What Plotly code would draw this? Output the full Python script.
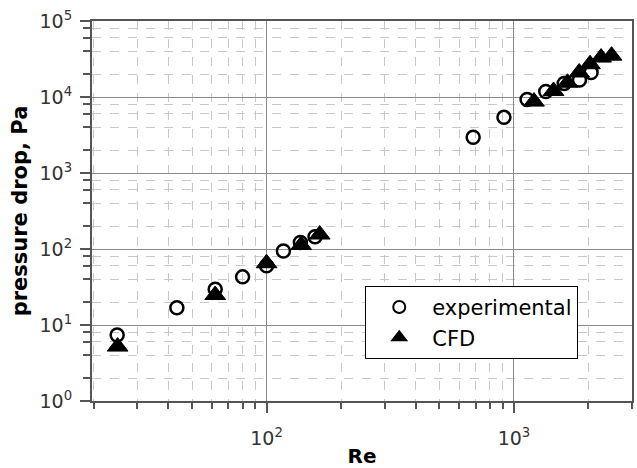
import numpy as np
import plotly.graph_objects as go

# Experimental data
exp_re = [24.9, 43.4, 62, 80, 100, 117, 137, 157, 684, 911, 1130, 1345, 1596, 1840, 2050]
exp_dp = [7.4, 16.9, 29.5, 43, 60, 94, 122, 145, 2950, 5400, 9300, 11800, 15100, 16700, 21000]

# CFD data
cfd_re = [25, 62, 100, 138, 164, 1205, 1445, 1646, 1835, 2030, 2250, 2480]
cfd_dp = [5.2, 24.8, 65, 113, 155, 8700, 12000, 15400, 21000, 27000, 33000, 35000]

y_major = [1, 10, 100, 1000, 10000, 100000]
y_major_text = ["10<sup>0</sup>", "10<sup>1</sup>", "10<sup>2</sup>", "10<sup>3</sup>", "10<sup>4</sup>", "10<sup>5</sup>"]
x_major = [100, 1000]
x_major_text = ["10<sup>2</sup>", "10<sup>3</sup>"]

FONT = "DejaVu Sans, Verdana, sans-serif"

y_minor = [m * 10 ** k for k in range(0, 5) for m in (2, 4, 6, 8)]
x_minor = [m * 10 ** k for k in range(1, 4) for m in range(2, 10) if 19 < m * 10 ** k < 3100]

fig = go.Figure()
fig.add_trace(go.Scatter(
    x=exp_re, y=exp_dp, mode="markers", name="experimental",
    marker=dict(symbol="circle-open", size=13, color="black", line=dict(width=2.5, color="black")),
))
fig.add_trace(go.Scatter(
    x=cfd_re, y=cfd_dp, mode="markers", name="CFD",
    marker=dict(symbol="triangle-up", size=18, color="black", line=dict(width=1, color="black")),
))

axis_common = dict(
    type="log", automargin=False,
    showline=True, linecolor="#555555", linewidth=2, mirror=True,
    ticks="outside", ticklen=10, tickwidth=1.5, tickcolor="#555555",
    showgrid=True, gridcolor="#8a8a8a", gridwidth=1,
    tickfont=dict(family=FONT, size=19, color="#333333"),
    zeroline=False,
)

fig.update_xaxes(
    **axis_common,
    range=[np.log10(19.7), np.log10(3000)],
    tickmode="array", tickvals=x_major, ticktext=x_major_text,
    ticklabelstandoff=9,
    minor=dict(tickmode="array", tickvals=x_minor, ticks="outside", ticklen=6,
               tickcolor="#555555", showgrid=True, gridcolor="#c8c8c8", griddash="dash", gridwidth=1),
    title=dict(text="<b>Re</b>", font=dict(family=FONT, size=20, color="black"), standoff=8),
)
fig.update_yaxes(
    **axis_common,
    range=[0, 5],
    tickmode="array", tickvals=y_major, ticktext=y_major_text,
    ticklabelstandoff=4,
    minor=dict(tickmode="array", tickvals=y_minor, ticks="outside", ticklen=7,
               tickcolor="#555555", showgrid=True, gridcolor="#c8c8c8", griddash="dash", gridwidth=1),
    title=dict(text="<b>pressure drop, Pa</b>", font=dict(family=FONT, size=21, color="black"), standoff=6),
)

fig.update_layout(
    width=637, height=468,
    margin=dict(l=92, r=5, t=21, b=67),
    paper_bgcolor="white", plot_bgcolor="white",
    showlegend=True,
    legend=dict(
        x=0.506, y=0.303, xanchor="left", yanchor="top",
        bgcolor="white", bordercolor="black", borderwidth=1,
        font=dict(family=FONT, size=21, color="black"),
        itemsizing="constant", itemwidth=56, tracegroupgap=0,
        entrywidth=218, entrywidthmode="pixels",
    ),
    font=dict(family=FONT),
)

fig.write_html("out.html")
